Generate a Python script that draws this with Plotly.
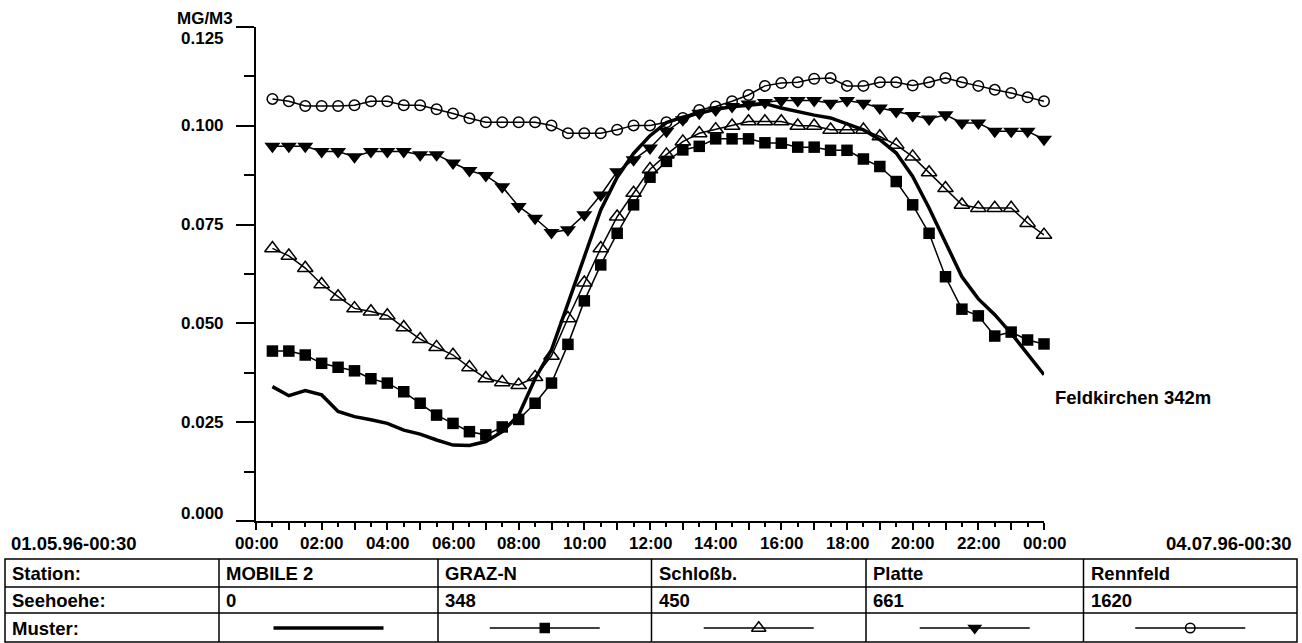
import plotly.graph_objects as go

# ---- data: half-hourly mean concentrations (mg/m3), 00:30 ... 24:00 ----
hours = [0.5, 1.0, 1.5, 2.0, 2.5, 3.0, 3.5, 4.0, 4.5, 5.0, 5.5, 6.0,
         6.5, 7.0, 7.5, 8.0, 8.5, 9.0, 9.5, 10.0, 10.5, 11.0, 11.5, 12.0,
         12.5, 13.0, 13.5, 14.0, 14.5, 15.0, 15.5, 16.0, 16.5, 17.0, 17.5, 18.0,
         18.5, 19.0, 19.5, 20.0, 20.5, 21.0, 21.5, 22.0, 22.5, 23.0, 23.5, 24.0]

mobile2 = [0.0340, 0.0317, 0.0330, 0.0319, 0.0277, 0.0264, 0.0256, 0.0247, 0.0230, 0.0220, 0.0205, 0.0192,
           0.0191, 0.0201, 0.0226, 0.0268, 0.0360, 0.0433, 0.0550, 0.0670, 0.0787, 0.0870, 0.0930, 0.0975,
           0.1008, 0.1022, 0.1033, 0.1042, 0.1048, 0.1053, 0.1056, 0.1045, 0.1035, 0.1027, 0.1020, 0.1005,
           0.0990, 0.0965, 0.0931, 0.0872, 0.0792, 0.0705, 0.0618, 0.0562, 0.0522, 0.0475, 0.0424, 0.0370]

graz_n = [0.0430, 0.0430, 0.0420, 0.0399, 0.0389, 0.0380, 0.0360, 0.0349, 0.0327, 0.0298, 0.0268, 0.0247,
          0.0226, 0.0218, 0.0238, 0.0257, 0.0298, 0.0349, 0.0447, 0.0557, 0.0648, 0.0728, 0.0800, 0.0870,
          0.0910, 0.0939, 0.0948, 0.0967, 0.0967, 0.0967, 0.0957, 0.0956, 0.0946, 0.0946, 0.0938, 0.0938,
          0.0916, 0.0897, 0.0859, 0.0800, 0.0728, 0.0618, 0.0536, 0.0519, 0.0468, 0.0478, 0.0458, 0.0448]

schlossberg = [0.0690, 0.0671, 0.0640, 0.0599, 0.0568, 0.0538, 0.0530, 0.0520, 0.0490, 0.0460, 0.0440, 0.0420,
               0.0389, 0.0361, 0.0351, 0.0344, 0.0364, 0.0418, 0.0513, 0.0603, 0.0690, 0.0770, 0.0830, 0.0890,
               0.0927, 0.0960, 0.0981, 0.0991, 0.1000, 0.1011, 0.1011, 0.1011, 0.1000, 0.1000, 0.0990, 0.0990,
               0.0990, 0.0973, 0.0952, 0.0922, 0.0882, 0.0842, 0.0800, 0.0792, 0.0792, 0.0792, 0.0754, 0.0724]

platte = [0.0948, 0.0948, 0.0948, 0.0935, 0.0935, 0.0922, 0.0935, 0.0935, 0.0935, 0.0927, 0.0927, 0.0906,
          0.0887, 0.0874, 0.0846, 0.0796, 0.0766, 0.0730, 0.0737, 0.0775, 0.0825, 0.0884, 0.0914, 0.0944,
          0.0986, 0.1015, 0.1032, 0.1040, 0.1049, 0.1055, 0.1059, 0.1064, 0.1064, 0.1064, 0.1057, 0.1064,
          0.1057, 0.1045, 0.1036, 0.1026, 0.1017, 0.1028, 0.1007, 0.1007, 0.0986, 0.0986, 0.0986, 0.0966]

rennfeld = [0.1068, 0.1062, 0.1050, 0.1050, 0.1050, 0.1052, 0.1062, 0.1062, 0.1052, 0.1052, 0.1042, 0.1031,
            0.1019, 0.1009, 0.1009, 0.1009, 0.1009, 0.1001, 0.0981, 0.0981, 0.0981, 0.0990, 0.1001, 0.1001,
            0.1009, 0.1020, 0.1040, 0.1049, 0.1062, 0.1078, 0.1101, 0.1108, 0.1110, 0.1119, 0.1121, 0.1101,
            0.1101, 0.1110, 0.1110, 0.1102, 0.1110, 0.1121, 0.1110, 0.1101, 0.1091, 0.1083, 0.1072, 0.1062]

stations = ["MOBILE 2", "GRAZ-N", "Schloßb.", "Platte", "Rennfeld"]
altitudes = ["0", "348", "450", "661", "1620"]
x_tick_hours = [0, 2, 4, 6, 8, 10, 12, 14, 16, 18, 20, 22, 24]
x_tick_text = ["00:00", "02:00", "04:00", "06:00", "08:00", "10:00", "12:00",
               "14:00", "16:00", "18:00", "20:00", "22:00", "00:00"]
y_tick_values = [0.000, 0.025, 0.050, 0.075, 0.100, 0.125]
y_tick_text = ["0.000", "0.025", "0.050", "0.075", "0.100", "0.125"]
period_start = "01.05.96-00:30"
period_end = "04.07.96-00:30"
series_note = "Feldkirchen 342m"

# ---- page geometry (pixels) ----
W, H = 1302, 643
PL, PR, PT, PB = 256, 1044, 27, 521          # plot frame
FONT = "Liberation Sans, Arial, Helvetica, sans-serif"
FS_TICK = 17
FS_TEXT = 18.5
INK = "black"

styles = {
    "MOBILE 2": dict(mode="lines", line=dict(color=INK, width=3.5)),
    "GRAZ-N": dict(mode="lines+markers", line=dict(color=INK, width=1.5),
                   marker=dict(symbol="square", size=11.5, color=INK)),
    "Schloßb.": dict(mode="lines+markers", line=dict(color=INK, width=1.5),
                     marker=dict(symbol="triangle-up-open", size=13.5, color=INK,
                                 line=dict(width=1.5, color=INK))),
    "Platte": dict(mode="lines+markers", line=dict(color=INK, width=1.5),
                   marker=dict(symbol="triangle-down", size=14, color=INK)),
    "Rennfeld": dict(mode="lines+markers", line=dict(color=INK, width=1.5),
                     marker=dict(symbol="circle-open", size=10.5, color=INK,
                                 line=dict(width=1.5, color=INK))),
}
values = {"MOBILE 2": mobile2, "GRAZ-N": graz_n, "Schloßb.": schlossberg,
          "Platte": platte, "Rennfeld": rennfeld}

fig = go.Figure()
for name in ["Rennfeld", "Platte", "Schloßb.", "GRAZ-N", "MOBILE 2"]:
    fig.add_trace(go.Scatter(x=hours, y=values[name], name=name, cliponaxis=False,
                             showlegend=False, hoverinfo="skip", **styles[name]))

# ---- key table at the bottom (drawn on a full-page pixel overlay) ----
col_edges = [5, 219, 438, 651.5, 866, 1083.5, 1297]
row_edges = [559, 587, 613, 642]
row_mid = [573, 600, 628]

shapes = []
shapes.append(dict(type="rect", xref="x2", yref="y2", x0=col_edges[0], x1=col_edges[-1],
                   y0=row_edges[0], y1=row_edges[-1], line=dict(color=INK, width=1.5)))
for yy in row_edges[1:-1]:
    shapes.append(dict(type="line", xref="x2", yref="y2", x0=col_edges[0], x1=col_edges[-1],
                       y0=yy, y1=yy, line=dict(color=INK, width=1.5)))
for xx in col_edges[1:-1]:
    shapes.append(dict(type="line", xref="x2", yref="y2", x0=xx, x1=xx,
                       y0=row_edges[0], y1=row_edges[-1], line=dict(color=INK, width=1.5)))

for i, name in enumerate(stations):
    cx = (col_edges[i + 1] + col_edges[i + 2]) / 2
    st = styles[name]
    fig.add_trace(go.Scatter(x=[cx - 55, cx + 55], y=[row_mid[2], row_mid[2]], mode="lines",
                             line=st["line"], xaxis="x2", yaxis="y2", cliponaxis=False,
                             showlegend=False, hoverinfo="skip"))
    if "marker" in st:
        mk = dict(st["marker"])
        mk["size"] = mk["size"] - 1
        fig.add_trace(go.Scatter(x=[cx], y=[row_mid[2]], mode="markers", marker=mk,
                                 xaxis="x2", yaxis="y2", cliponaxis=False,
                                 showlegend=False, hoverinfo="skip"))

ann = []


def label(text, x, y, xref="x2", yref="y2", xanchor="left", yshift=0, size=FS_TEXT):
    ann.append(dict(text="<b>%s</b>" % text, x=x, y=y, xref=xref, yref=yref,
                    xanchor=xanchor, yanchor="middle", yshift=yshift, showarrow=False,
                    font=dict(family=FONT, size=size, color=INK)))


for j, head in enumerate(["Station:", "Seehoehe:", "Muster:"]):
    label(head, col_edges[0] + 5, row_mid[j])
for i, name in enumerate(stations):
    label(name, col_edges[i + 1] + 5, row_mid[0])
    label(altitudes[i], col_edges[i + 1] + 5, row_mid[1])

# axis labels
for hv, txt in zip(x_tick_hours, x_tick_text):
    label(txt, hv, 543, xref="x", xanchor="center", size=FS_TICK)
for yv, txt in zip(y_tick_values, y_tick_text):
    shift = -12 if yv == 0.125 else (8 if yv == 0.0 else 0)
    label(txt, 226, yv, yref="y", xanchor="right", yshift=shift, size=FS_TICK)
label("MG/M3", 235, 18, xanchor="right", size=FS_TICK)
label(period_start, 9, 543)
label(period_end, 1294, 543, xanchor="right")
label(series_note, 1053, 397)

fig.update_layout(
    width=W, height=H, margin=dict(l=0, r=0, t=0, b=0),
    paper_bgcolor="white", plot_bgcolor="rgba(0,0,0,0)",
    showlegend=False, shapes=shapes, annotations=ann,
    xaxis=dict(domain=[PL / W, PR / W], range=[0, 24], showgrid=False, zeroline=False,
               showline=True, linecolor=INK, linewidth=2, ticks="outside",
               tickvals=list(range(25)), ticklen=7, tickwidth=1.5, tickcolor=INK,
               showticklabels=False, anchor="y",
               minor=dict(tickvals=[h + 0.5 for h in range(24)], ticks="outside",
                          ticklen=4, tickwidth=1.5, tickcolor=INK, showgrid=False)),
    yaxis=dict(domain=[(H - PB) / H, (H - PT) / H], range=[0, 0.125], showgrid=False,
               zeroline=False, showline=True, linecolor=INK, linewidth=2, ticks="outside",
               tickvals=y_tick_values, ticklen=18, tickwidth=1.5, tickcolor=INK,
               showticklabels=False, anchor="x",
               minor=dict(tickvals=[0.0125, 0.0375, 0.0625, 0.0875, 0.1125], ticks="outside",
                          ticklen=10, tickwidth=1.5, tickcolor=INK, showgrid=False)),
    xaxis2=dict(domain=[0, 1], range=[0, W], visible=False, anchor="y2", fixedrange=True),
    yaxis2=dict(domain=[0, 1], range=[H, 0], visible=False, anchor="x2", fixedrange=True),
)

fig.write_html("out.html")
